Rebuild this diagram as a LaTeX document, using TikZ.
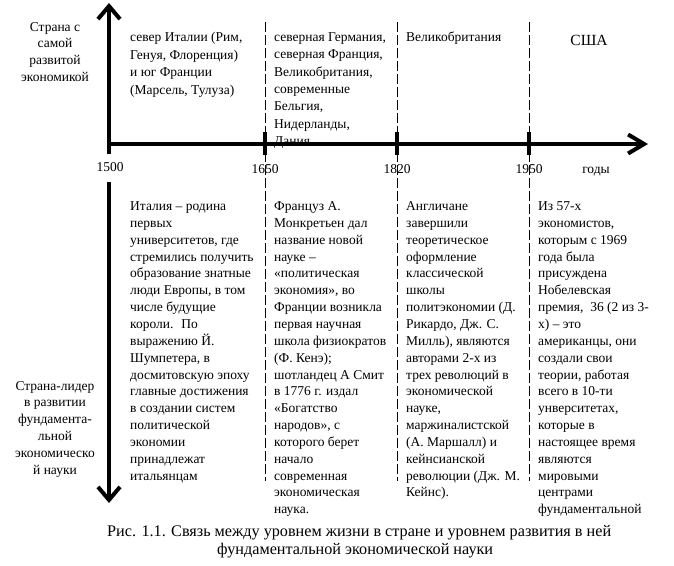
\documentclass[tikz,border=0pt]{standalone}
\usepackage{fontspec}
\setmainfont{Liberation Serif}
\usetikzlibrary{arrows.meta}
\begin{document}
\begin{tikzpicture}[x=1pt,y=-1pt,
  body/.style={inner sep=0pt, anchor=base west, font=\fontsize{13.5}{16.85}\selectfont},
  bodytop/.style={inner sep=0pt, anchor=base west, font=\fontsize{13.5}{17.3}\selectfont},
  side/.style={inner sep=0pt, anchor=base, font=\fontsize{13.5}{16.9}\selectfont},
  year/.style={inner sep=0pt, anchor=base, font=\fontsize{13.5}{16}\selectfont},
  capt/.style={inner sep=0pt, anchor=base west, font=\fontsize{16.2}{19}\selectfont},
  axisline/.style={line width=4pt},
  tickmark/.style={line width=4pt},
  guide/.style={line width=0.9pt, dash pattern=on 10pt off 3pt},
  vtip/.style={-{Straight Barb[length=13pt,width=22pt,line width=4pt]}},
  htip/.style={-{Straight Barb[length=16pt,width=19pt,line width=4pt]}},
]
\useasboundingbox[fill=white] (0,0) rectangle (674,565);

% axes
\coordinate (O) at (109,144);
\coordinate (vstub) at (109,154);
\coordinate (ytop) at (109,3);
\coordinate (vlow) at (109,182);
\coordinate (ybot) at (109,503);
\coordinate (xend) at (648,144);
\draw[axisline, vtip] (vstub) -- (ytop);
\draw[axisline, vtip] (vlow) -- (ybot);
\draw[axisline, htip] (O) -- (xend);

% dashed guides and ticks
\foreach \n/\x/\e in {a/265/481, b/397/481, c/529/481}{
  \coordinate (g\n top) at (\x,22);
  \coordinate (g\n bot) at (\x,\e);
  \coordinate (t\n top) at (\x,132);
  \coordinate (t\n bot) at (\x,155);
  \draw[guide] (g\n top) -- (g\n bot);
  \draw[tickmark] (t\n top) -- (t\n bot);
}

% year labels
\node[year] (y1500) at (110,171.5) {1500};
\node[year] (y1650) at (265,173) {1650};
\node[year] (y1820) at (397,173) {1820};
\node[year] (y1950) at (529,173) {1950};
\node[year] (ygody) at (596,173) {годы};

% side labels
\node[side] (lab1) at (55,31) {\begin{tabular}[t]{@{}c@{}}Страна с\\самой\\развитой\\экономикой\end{tabular}};
\node[side] (lab2) at (55,390) {\begin{tabular}[t]{@{}c@{}}Страна-лидер\\в развитии\\фундамента-\\льной\\экономическо\\й науки\end{tabular}};

% top row
\node[bodytop, font=\fontsize{13.5}{17.6}\selectfont] (top1) at (130,41.5) {\begin{tabular}[t]{@{}l@{}}север Италии (Рим,\\Генуя, Флоренция)\\и юг Франции\\(Марсель, Тулуза)\end{tabular}};
\node[bodytop] (top2) at (274,41.5) {\begin{tabular}[t]{@{}l@{}}северная Германия,\\северная Франция,\\Великобритания,\\современные\\Бельгия,\\Нидерланды,\\Дания\end{tabular}};
\node[bodytop] (top3) at (406,41.5) {Великобритания};
\node[inner sep=0pt, anchor=base, font=\fontsize{15.5}{18}\selectfont] (top4) at (589,45) {США};

% bottom row
\node[body] (bot1) at (130,210.5) {\begin{tabular}[t]{@{}l@{}}Италия – родина\\первых\\университетов, где\\стремились получить\\образование знатные\\люди Европы, в том\\числе будущие\\короли.~ По\\выражению Й.\\Шумпетера, в\\досмитовскую эпоху\\главные достижения\\в создании систем\\политической\\экономии\\принадлежат\\итальянцам\end{tabular}};
\node[body] (bot2) at (274,210.5) {\begin{tabular}[t]{@{}l@{}}Француз А.\\Монкретьен дал\\название новой\\науке –\\«политическая\\экономия», во\\Франции возникла\\первая научная\\школа физиократов\\(Ф. Кенэ);\\шотландец А Смит\\в 1776 г. издал\\«Богатство\\народов», с\\которого берет\\начало\\современная\\экономическая\\наука.\end{tabular}};
\node[body] (bot3) at (406,210.5) {\begin{tabular}[t]{@{}l@{}}Англичане\\завершили\\теоретическое\\оформление\\классической\\школы\\политэкономии (Д.\\Рикардо, Дж. С.\\Милль), являются\\авторами 2-х из\\трех революций в\\экономической\\науке,\\маржиналистской\\(А. Маршалл) и\\кейнсианской\\революции (Дж. М.\\Кейнс).\end{tabular}};
\node[body] (bot4) at (538,210.5) {\begin{tabular}[t]{@{}l@{}}Из 57-х\\экономистов,\\которым с 1969\\года была\\присуждена\\Нобелевская\\премия,~ 36 (2 из 3-\\х) – это\\американцы, они\\создали свои\\теории, работая\\всего в 10-ти\\унверситетах,\\которые в\\настоящее время\\являются\\мировыми\\центрами\\фундаментальной\end{tabular}};

% caption
\node[capt] (cap1) at (107,536) {Рис. 1.1. Связь между уровнем жизни в стране и уровнем развития в ней};
\node[capt] (cap2) at (217,554) {фундаментальной экономической науки};
\end{tikzpicture}
\end{document}
